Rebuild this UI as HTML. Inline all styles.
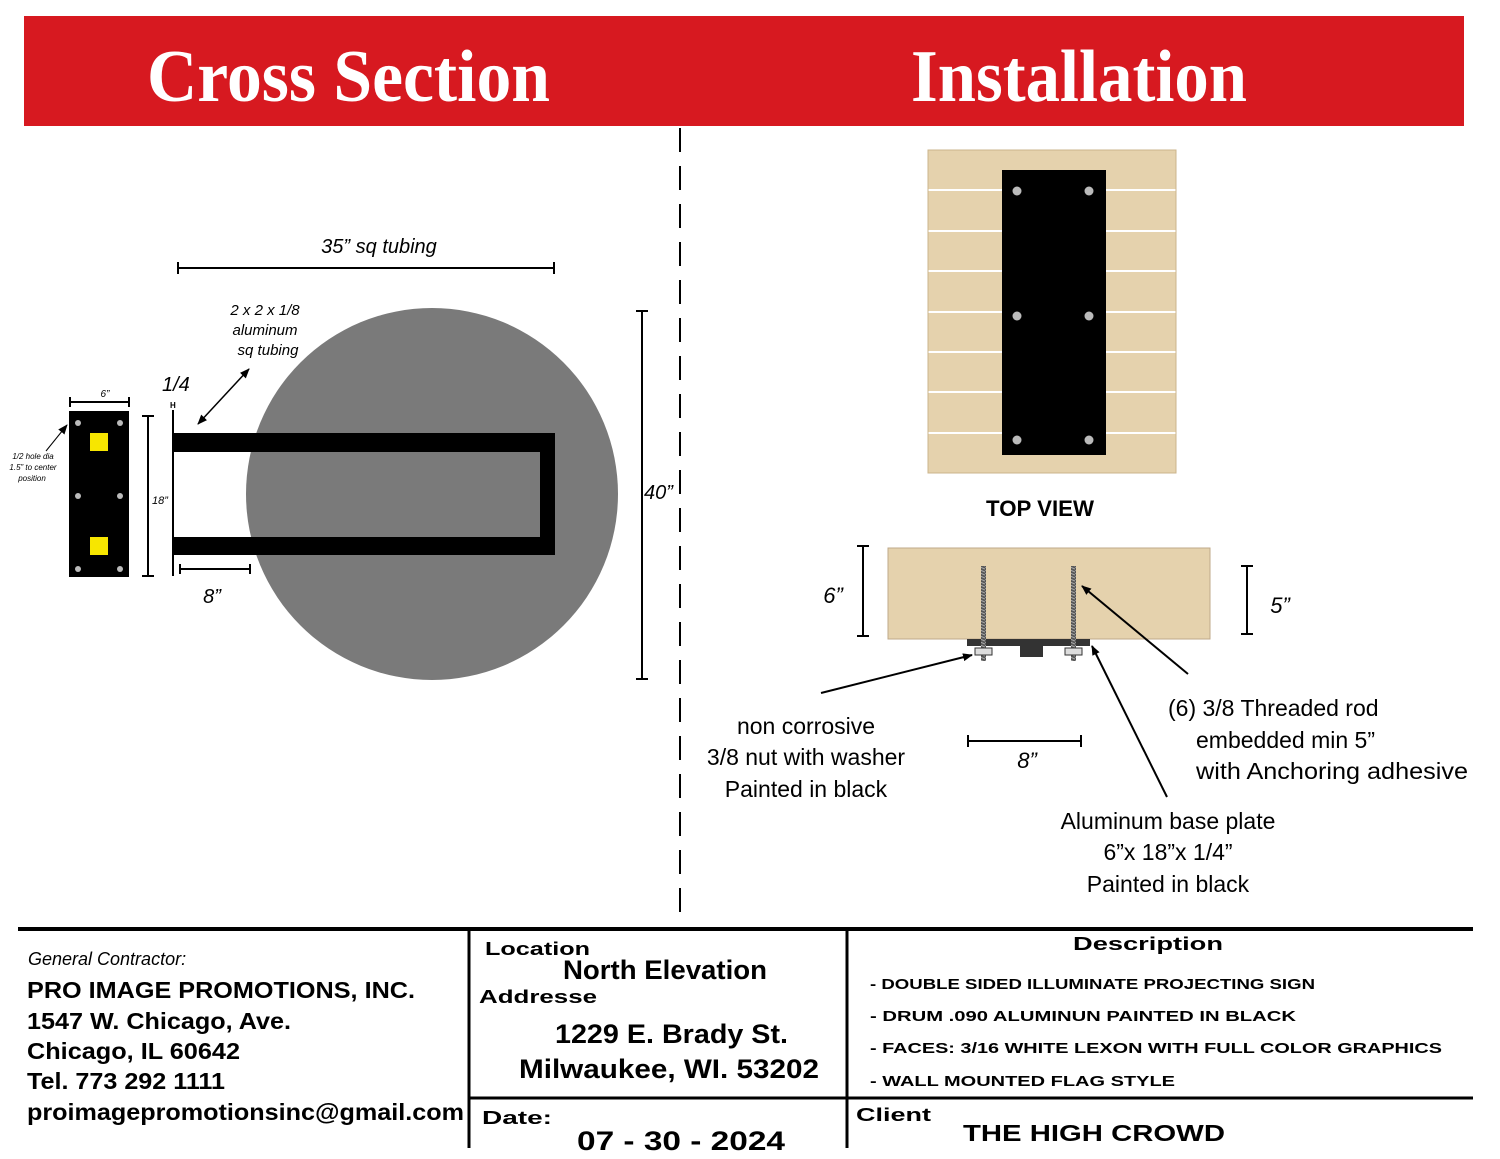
<!DOCTYPE html>
<html><head><meta charset="utf-8"><style>html,body{margin:0;padding:0;background:#fff}svg{display:block}</style></head>
<body>
<svg width="1500" height="1159" viewBox="0 0 1500 1159" xmlns="http://www.w3.org/2000/svg" font-family="Liberation Sans, sans-serif">
<defs>
<marker id="ah" markerWidth="10" markerHeight="10" refX="9" refY="5" orient="auto" markerUnits="userSpaceOnUse"><path d="M0,1 L10,5 L0,9 Z" fill="#000"/></marker>
<marker id="ahs" markerWidth="10" markerHeight="10" refX="9" refY="5" orient="auto-start-reverse" markerUnits="userSpaceOnUse"><path d="M0,1 L10,5 L0,9 Z" fill="#000"/></marker>
<pattern id="thr" width="5" height="3" patternUnits="userSpaceOnUse"><rect width="5" height="3" fill="#555"/><line x1="0" y1="0" x2="5" y2="2" stroke="#aaa" stroke-width="1"/></pattern>
</defs>
<rect x="24" y="16" width="1440" height="110" fill="#d71920"/>
<text x="147" y="101" font-family="Liberation Serif, serif" font-weight="bold" font-size="74" fill="#fff" textLength="403" lengthAdjust="spacingAndGlyphs">Cross Section</text>
<text x="911" y="101" font-family="Liberation Serif, serif" font-weight="bold" font-size="74" fill="#fff" textLength="336" lengthAdjust="spacingAndGlyphs">Installation</text>
<line x1="680" y1="128" x2="680" y2="922" stroke="#000" stroke-width="2" stroke-dasharray="24,14"/>

<circle cx="432" cy="494" r="186" fill="#7a7a7a"/>
<rect x="173" y="433" width="382" height="19" fill="#000"/>
<rect x="173" y="537" width="382" height="18" fill="#000"/>
<rect x="540" y="433" width="15" height="122" fill="#000"/>
<line x1="173" y1="410" x2="173" y2="576" stroke="#000" stroke-width="2"/>
<text x="170" y="408" font-size="8" font-weight="bold">H</text>

<g stroke="#000" stroke-width="2">
<line x1="178" y1="268" x2="554" y2="268"/><line x1="178" y1="262" x2="178" y2="274"/><line x1="554" y1="262" x2="554" y2="274"/>
<line x1="642" y1="311" x2="642" y2="679"/><line x1="636" y1="311" x2="648" y2="311"/><line x1="636" y1="679" x2="648" y2="679"/>
<line x1="148" y1="416" x2="148" y2="576"/><line x1="142" y1="416" x2="154" y2="416"/><line x1="142" y1="576" x2="154" y2="576"/>
<line x1="70" y1="402" x2="129" y2="402"/><line x1="70" y1="397" x2="70" y2="407"/><line x1="129" y1="397" x2="129" y2="407"/>
<line x1="180" y1="569" x2="250" y2="569"/><line x1="180" y1="564" x2="180" y2="574"/><line x1="250" y1="564" x2="250" y2="574"/>
</g>
<text x="379" y="253" font-size="20" font-style="italic" text-anchor="middle">35” sq tubing</text>
<text x="265" y="315" font-size="15" font-style="italic" text-anchor="middle">2 x 2 x 1/8</text>
<text x="265" y="335" font-size="15" font-style="italic" text-anchor="middle">aluminum</text>
<text x="268" y="355" font-size="15" font-style="italic" text-anchor="middle">sq tubing</text>
<text x="162" y="391" font-size="20" font-style="italic">1/4</text>
<line x1="198" y1="424" x2="249" y2="369" stroke="#000" stroke-width="1.5" marker-start="url(#ahs)" marker-end="url(#ah)"/>
<text x="644" y="499" font-size="20" font-style="italic">40”</text>
<text x="152" y="504" font-size="11" font-style="italic">18”</text>
<text x="105" y="397" font-size="10" font-style="italic" text-anchor="middle">6”</text>
<text x="212" y="603" font-size="20" font-style="italic" text-anchor="middle">8”</text>

<rect x="69" y="411" width="60" height="166" fill="#000"/>
<g fill="#bbb">
<circle cx="78" cy="423" r="3"/><circle cx="120" cy="423" r="3"/>
<circle cx="78" cy="496" r="3"/><circle cx="120" cy="496" r="3"/>
<circle cx="78" cy="569" r="3"/><circle cx="120" cy="569" r="3"/>
</g>
<rect x="90" y="433" width="18" height="18" fill="#f7e600"/>
<rect x="90" y="537" width="18" height="18" fill="#f7e600"/>
<line x1="46" y1="451" x2="67" y2="425" stroke="#000" stroke-width="1" marker-end="url(#ah)"/>
<g font-size="8" font-style="italic" text-anchor="middle">
<text x="33" y="459">1/2 hole dia</text><text x="33" y="470">1.5” to center</text><text x="32" y="481">position</text>
</g>

<rect x="928" y="150" width="248" height="323" fill="#e5d2ad"/>
<g stroke="#fff" stroke-width="2">
<line x1="928" y1="190" x2="1176" y2="190"/><line x1="928" y1="231" x2="1176" y2="231"/><line x1="928" y1="271" x2="1176" y2="271"/>
<line x1="928" y1="312" x2="1176" y2="312"/><line x1="928" y1="352" x2="1176" y2="352"/><line x1="928" y1="392" x2="1176" y2="392"/>
<line x1="928" y1="433" x2="1176" y2="433"/>
</g>
<rect x="928" y="150" width="248" height="323" fill="none" stroke="#cbb48c" stroke-width="1"/>
<rect x="1002" y="170" width="104" height="285" fill="#000"/>
<g fill="#bbb">
<circle cx="1017" cy="191" r="4.5"/><circle cx="1089" cy="191" r="4.5"/>
<circle cx="1017" cy="316" r="4.5"/><circle cx="1089" cy="316" r="4.5"/>
<circle cx="1017" cy="440" r="4.5"/><circle cx="1089" cy="440" r="4.5"/>
</g>
<text x="1040" y="516" font-size="22" font-weight="bold" text-anchor="middle" textLength="108" lengthAdjust="spacingAndGlyphs">TOP VIEW</text>

<rect x="888" y="548" width="322" height="91" fill="#e5d2ad" stroke="#bfa98a" stroke-width="1"/>
<rect x="967" y="639" width="123" height="7" fill="#333"/>
<rect x="1020" y="646" width="23" height="11" fill="#333"/>
<rect x="981" y="566" width="5" height="95" fill="url(#thr)"/>
<rect x="1071" y="566" width="5" height="95" fill="url(#thr)"/>
<rect x="975" y="648" width="17" height="7" fill="#ddd" stroke="#333" stroke-width="1"/>
<rect x="1065" y="648" width="17" height="7" fill="#ddd" stroke="#333" stroke-width="1"/>
<g stroke="#000" stroke-width="2">
<line x1="863" y1="546" x2="863" y2="636"/><line x1="857" y1="546" x2="869" y2="546"/><line x1="857" y1="636" x2="869" y2="636"/>
<line x1="1247" y1="566" x2="1247" y2="634"/><line x1="1241" y1="566" x2="1253" y2="566"/><line x1="1241" y1="634" x2="1253" y2="634"/>
<line x1="968" y1="741" x2="1081" y2="741"/><line x1="968" y1="735" x2="968" y2="747"/><line x1="1081" y1="735" x2="1081" y2="747"/>
</g>
<text x="833" y="603" font-size="22" font-style="italic" text-anchor="middle">6”</text>
<text x="1280" y="613" font-size="22" font-style="italic" text-anchor="middle">5”</text>
<text x="1027" y="768" font-size="22" font-style="italic" text-anchor="middle">8”</text>
<g stroke="#000" stroke-width="2">
<line x1="821" y1="693" x2="972" y2="655" marker-end="url(#ah)"/>
<line x1="1188" y1="674" x2="1082" y2="586" marker-end="url(#ah)"/>
<line x1="1167" y1="797" x2="1092" y2="646" marker-end="url(#ah)"/>
</g>
<g font-size="23" text-anchor="middle" fill="#000">
<text x="806" y="734">non corrosive</text>
<text x="806" y="765">3/8 nut with washer</text>
<text x="806" y="797">Painted in black</text>
<text x="1168" y="829">Aluminum base plate</text>
<text x="1168" y="860">6”x 18”x 1/4”</text>
<text x="1168" y="892">Painted in black</text>
</g>
<g font-size="23">
<text x="1168" y="716">(6) 3/8 Threaded rod</text>
<text x="1196" y="748">embedded min 5”</text>
<text x="1196" y="779" textLength="272" lengthAdjust="spacingAndGlyphs">with Anchoring adhesive</text>
</g>

<line x1="18" y1="929" x2="1473" y2="929" stroke="#000" stroke-width="4"/>
<line x1="469" y1="929" x2="469" y2="1148" stroke="#000" stroke-width="3"/>
<line x1="847" y1="929" x2="847" y2="1148" stroke="#000" stroke-width="3"/>
<line x1="469" y1="1098" x2="1473" y2="1098" stroke="#000" stroke-width="3"/>
<text x="28" y="965" font-size="18" font-style="italic">General Contractor:</text>
<g font-size="23" font-weight="bold">
<text x="27" y="998" textLength="388" lengthAdjust="spacingAndGlyphs">PRO IMAGE PROMOTIONS, INC.</text>
<text x="27" y="1029" textLength="264" lengthAdjust="spacingAndGlyphs">1547 W. Chicago, Ave.</text>
<text x="27" y="1059" textLength="213" lengthAdjust="spacingAndGlyphs">Chicago, IL 60642</text>
<text x="27" y="1089" textLength="198" lengthAdjust="spacingAndGlyphs">Tel. 773 292 1111</text>
<text x="27" y="1120" textLength="437" lengthAdjust="spacingAndGlyphs">proimagepromotionsinc@gmail.com</text>
</g>
<g font-weight="bold" font-size="18">
<text x="485" y="955" textLength="105" lengthAdjust="spacingAndGlyphs">Location</text>
<text x="479" y="1003" textLength="118" lengthAdjust="spacingAndGlyphs">Addresse</text>
<text x="482" y="1124" textLength="70" lengthAdjust="spacingAndGlyphs">Date:</text>
<text x="856" y="1121" textLength="75" lengthAdjust="spacingAndGlyphs">Client</text>
<text x="1073" y="950" textLength="150" lengthAdjust="spacingAndGlyphs">Description</text>
</g>
<g font-size="27" font-weight="bold">
<text x="563" y="979" textLength="204" lengthAdjust="spacingAndGlyphs">North Elevation</text>
<text x="555" y="1043" textLength="233" lengthAdjust="spacingAndGlyphs">1229 E. Brady St.</text>
<text x="519" y="1078" textLength="300" lengthAdjust="spacingAndGlyphs">Milwaukee, WI. 53202</text>
<text x="577" y="1150" textLength="208" lengthAdjust="spacingAndGlyphs">07 - 30 - 2024</text>
<text x="963" y="1141" font-size="23" textLength="262" lengthAdjust="spacingAndGlyphs">THE HIGH CROWD</text>
</g>
<g font-size="15" font-weight="bold">
<text x="870" y="989" textLength="445" lengthAdjust="spacingAndGlyphs">- DOUBLE SIDED ILLUMINATE PROJECTING SIGN</text>
<text x="870" y="1021" textLength="426" lengthAdjust="spacingAndGlyphs">- DRUM .090 ALUMINUN PAINTED IN BLACK</text>
<text x="870" y="1053" textLength="572" lengthAdjust="spacingAndGlyphs">- FACES: 3/16 WHITE LEXON WITH FULL COLOR GRAPHICS</text>
<text x="870" y="1086" textLength="305" lengthAdjust="spacingAndGlyphs">- WALL MOUNTED FLAG STYLE</text>
</g>
</svg>
</body></html>
